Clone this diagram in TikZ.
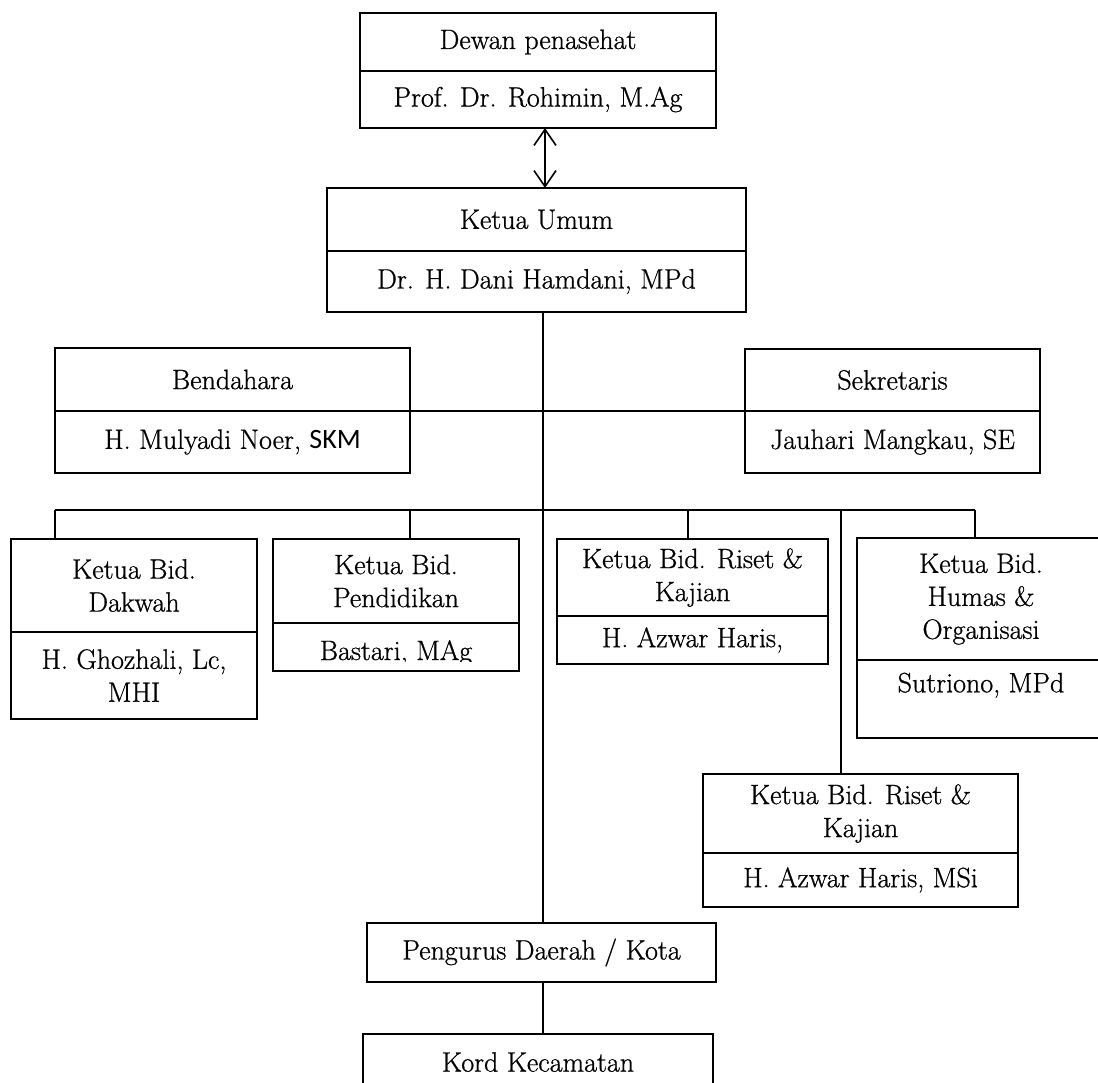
\documentclass[tikz,border=0pt]{standalone}
\usepackage{fontspec}
\setmainfont{Latin Modern Roman}[FakeBold=0.8]
\newfontfamily\calibri{Carlito}
\usetikzlibrary{arrows.meta}
\begin{document}
\begin{tikzpicture}[x=1pt,y=-1pt,
  cell/.style={draw, line width=2.2pt, inner sep=0pt, outer sep=0pt, align=center,
    font=\fontsize{28}{33}\selectfont},
  txt/.style={inner sep=0pt, outer sep=0pt, font=\fontsize{28}{33}\selectfont},
  link/.style={line width=1.6pt},
  barb/.style={{Straight Barb[length=16pt,width=22pt]}-{Straight Barb[length=16pt,width=22pt]}},
]
\useasboundingbox (0,0) rectangle (1098,1082);
\clip (0,0) rectangle (1098,1082);

% Dewan penasehat
\node[cell, minimum width=356, minimum height=58] (dewanT) at (538,42) {Dewan penasehat};
\node[cell, minimum width=356, minimum height=57] (dewanB) at (538,99.5) {Prof. Dr. Rohimin, M.Ag};

% Ketua Umum
\node[cell, minimum width=419, minimum height=63] (umumT) at (536.5,219.5) {Ketua Umum};
\node[cell, minimum width=419, minimum height=61] (umumB) at (536.5,281.5) {Dr. H. Dani Hamdani, MPd};

% Bendahara
\node[cell, minimum width=355, minimum height=63] (bendT) at (232.5,379.5) {Bendahara};
\node[cell, minimum width=355, minimum height=62] (bendB) at (232.5,442) {H. Mulyadi Noer, {\calibri SKM}};

% Sekretaris
\node[cell, minimum width=295, minimum height=62] (sekT) at (892.5,380) {Sekretaris};
\node[cell, minimum width=295, minimum height=62] (sekB) at (892.5,442) {Jauhari Mangkau, SE};

% Dakwah
\node[cell, minimum width=246, minimum height=93] (dakT) at (134,585.5) {Ketua Bid.\\Dakwah};
\node[cell, minimum width=246, minimum height=87] (dakB) at (134,675.5) {H. Ghozhali, Lc,\\MHI};

% Pendidikan
\node[cell, minimum width=246, minimum height=84] (pendT) at (396,581) {Ketua Bid.\\Pendidikan};
\node[cell, minimum width=246, minimum height=48] (pendB) at (396,647) {};
\begin{scope}
  \clip (274,624) rectangle (518,661);
  \node[txt, anchor=base] (pendBt) at (396,660) {Bastari, MAg};
\end{scope}

% Riset & Kajian
\node[cell, minimum width=271, minimum height=77] (risetT) at (692.5,577.5) {Ketua Bid. Riset \&\\Kajian};
\node[cell, minimum width=271, minimum height=48] (risetB) at (692.5,640) {H. Azwar Haris,};

% Humas & Organisasi
\node[cell, minimum width=248, minimum height=122] (humasT) at (981,599) {Ketua Bid.\\Humas \&\\Organisasi};
\node[cell, minimum width=248, minimum height=78] (humasB) at (981,699) {Sutriono, MPd\\\mbox{}};

% Riset & Kajian (2)
\node[cell, minimum width=315, minimum height=79] (riset2T) at (860.5,813.5) {Ketua Bid. Riset \&\\Kajian};
\node[cell, minimum width=315, minimum height=54] (riset2B) at (860.5,880) {H. Azwar Haris, MSi};

% Pengurus Daerah / Kota
\node[cell, minimum width=349, minimum height=59] (peng) at (541.5,952.5) {Pengurus Daerah / Kota};

% Kord Kecamatan
\node[cell, minimum width=350, minimum height=56] (kord) at (538,1062) {Kord Kecamatan};

% connectors
\coordinate (ax) at (545,0);
\coordinate (tx) at (543,0);
\coordinate (j1) at (55,510);
\coordinate (j2) at (410,510);
\coordinate (j3) at (688,510);
\coordinate (j4) at (841,510);
\coordinate (j5) at (975,510);

\draw[link, barb] (dewanB.south -| ax) -- (umumT.north -| ax);
\draw[link] (umumB.south -| tx) -- (peng.north -| tx);
\draw[link] (bendB.north east) -- (sekB.north west);
\draw[link] (j1) -- (j5);
\draw[link] (j1) -- (j1 |- dakT.north);
\draw[link] (j2) -- (j2 |- pendT.north);
\draw[link] (j3) -- (j3 |- risetT.north);
\draw[link] (j4) -- (j4 |- riset2T.north);
\draw[link] (j5) -- (j5 |- humasT.north);
\draw[link] (peng.south -| tx) -- (kord.north -| tx);
\end{tikzpicture}
\end{document}
